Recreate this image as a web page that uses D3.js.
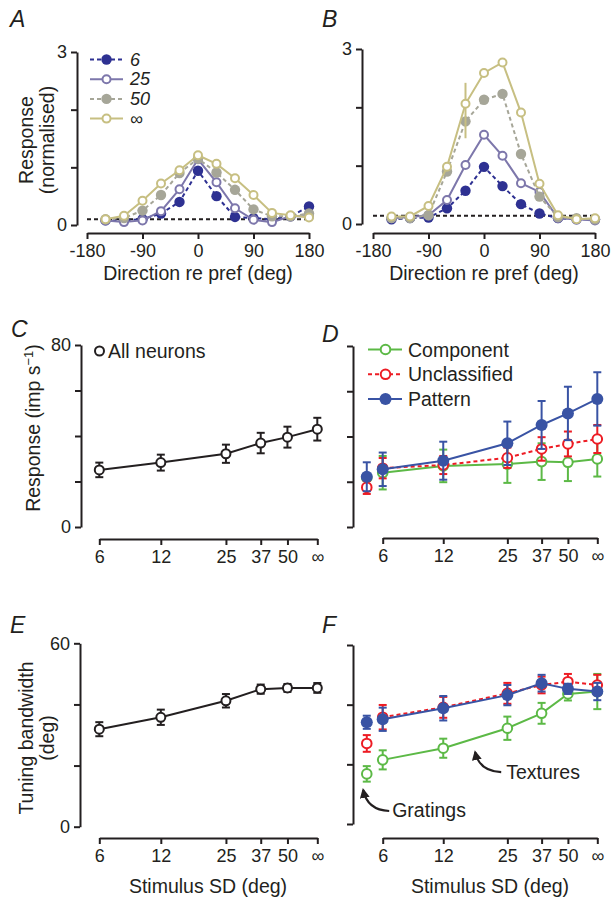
<!DOCTYPE html>
<html>
<head>
<meta charset="utf-8">
<script src="https://cdn.jsdelivr.net/npm/d3@7"></script>
<style>
  body { margin: 0; background: #fff; }
  svg { display: block; font-family: "Liberation Sans", Arial, sans-serif; }
</style>
</head>
<body>
<div id="chart"></div>
<script>
// ---- data ----
const dirs = [-150, -120, -90, -60, -30, 0, 30, 60, 90, 120, 150, 180];
const dirTicks = [-180, -90, 0, 90, 180];

// panel A: tuning curves, average
const a6   = [0.08, 0.08, 0.10, 0.20, 0.40, 0.94, 0.50, 0.14, 0.12, 0.10, 0.15, 0.32];
const a25  = [0.08, 0.05, 0.08, 0.24, 0.62, 1.14, 0.74, 0.29, 0.09, 0.05, 0.15, 0.15];
const a50  = [0.10, 0.12, 0.25, 0.52, 0.90, 1.15, 0.91, 0.61, 0.27, 0.15, 0.15, 0.20];
const aInf = [0.10, 0.16, 0.42, 0.72, 0.95, 1.21, 1.06, 0.81, 0.52, 0.21, 0.17, 0.13];
const aBase = 0.10;

// panel B: tuning curves, example neuron
const b6   = [0.08, 0.10, 0.11, 0.27, 0.57, 0.98, 0.65, 0.34, 0.18, 0.10, 0.08, 0.08];
const b25  = [0.10, 0.12, 0.15, 0.41, 1.01, 1.53, 1.17, 0.70, 0.55, 0.10, 0.08, 0.06];
const b50  = [0.10, 0.10, 0.15, 0.90, 1.76, 2.13, 2.23, 1.20, 0.47, 0.12, 0.10, 0.08];
const bInf = [0.13, 0.13, 0.31, 0.98, 2.06, 2.59, 2.77, 1.91, 0.69, 0.15, 0.08, 0.10];
const bBase = 0.14;
const bErrDir = -30, bErrLo = 1.47, bErrHi = 2.42;

// stimulus SD axis (∞ drawn at 70, gratings drawn left of 6)
const sdValues = [6, 12, 25, 37, 50, 70];
const sdLabels = ['6', '12', '25', '37', '50', '∞'];
const gratingSD = 5;

// panel C / E: all neurons
const allResp    = [25.1, 28.3, 32.2, 36.9, 39.5, 43.0];
const allRespErr = [3.2, 3.5, 4.0, 4.5, 4.6, 5.0];
const allBw      = [31.9, 35.8, 41.2, 45.0, 45.4, 45.4];
const allBwErr   = [2.3, 2.5, 2.2, 1.5, 1.3, 1.6];

// panel D / F: first value = gratings, then textures at sdValues
const compResp    = [21.8, 24.0, 27.0, 27.8, 28.9, 28.6, 30.1];
const compRespErr = [1.0, 7.4, 7.2, 8.3, 8.1, 8.3, 7.8];
const unclResp    = [17.5, 26.0, 27.4, 30.6, 34.5, 36.7, 38.9];
const unclRespErr = [2.9, 4.5, 4.0, 4.5, 5.2, 5.5, 6.2];
const pattResp    = [22.2, 25.5, 29.3, 37.0, 45.1, 50.2, 56.6];
const pattRespErr = [6.4, 7.4, 8.4, 9.6, 10.6, 11.8, 11.8];

const compBw    = [16.8, 21.5, 25.4, 32.1, 37.1, 43.6, 44.4];
const compBwErr = [2.6, 3.2, 3.2, 3.9, 3.5, 2.2, 5.9];
const unclBw    = [27.0, 35.8, 39.1, 43.8, 46.6, 47.7, 46.6];
const unclBwErr = [2.8, 4.1, 3.5, 3.5, 2.8, 2.6, 3.4];
const pattBw    = [34.1, 35.1, 38.8, 43.2, 47.2, 45.3, 44.4];
const pattBwErr = [2.2, 3.9, 4.1, 3.4, 2.8, 1.7, 2.9];

// ---- styles ----
const ink = '#231f20';
const tuneStyles = [
  {name: '6',  color: '#2e3192', dash: '4,3', filled: true},
  {name: '25', color: '#7d77ab', dash: null,  filled: false},
  {name: '50', color: '#a6a698', dash: '4,3', filled: true},
  {name: '∞',  color: '#c7bf82', dash: null,  filled: false}
];
const classStyles = {
  comp: {name: 'Component',    color: '#5cb946', dash: null,  filled: false},
  uncl: {name: 'Unclassified', color: '#ed1c24', dash: '4,3', filled: false},
  patt: {name: 'Pattern',      color: '#3953a4', dash: null,  filled: true}
};

const svg = d3.select('#chart').append('svg')
  .attr('width', 614).attr('height', 898);

// ---- panels ----
const dirX = r => d3.scaleLinear().domain([-180, 180]).range(r);
const sdX = r => d3.scaleLog().domain([6, 70]).range(r);

const pA = {x: dirX([87, 309]), y: d3.scaleLinear().domain([0, 3]).range([225, 52]), ax: 77, ay: 233};
const pB = {x: dirX([373, 595]), y: d3.scaleLinear().domain([0, 3]).range([224, 49]), ax: 362, ay: 233};
const pC = {x: sdX([99.3, 317.3]), y: d3.scaleLinear().domain([0, 80]).range([527, 345]), ax: 81, ay: 539};
const pD = {x: sdX([382.7, 597.3]), y: d3.scaleLinear().domain([0, 80]).range([527, 346]), ax: 353, ay: 538};
const pE = {x: sdX([99.3, 317.3]), y: d3.scaleLinear().domain([0, 60]).range([826.7, 643.3]), ax: 80, ay: 838};
const pF = {x: sdX([382.7, 597.3]), y: d3.scaleLinear().domain([0, 60]).range([824, 645]), ax: 353, ay: 838};

function styleAxis(g) {
  g.attr('font-family', null).attr('font-size', null);
  g.select('.domain').attr('stroke', ink).attr('stroke-width', 2);
  g.selectAll('.tick line').attr('stroke', ink).attr('stroke-width', 2);
  g.selectAll('.tick text').attr('fill', ink).style('font-size', '18px');
}

function yAxis(p, ticks, labels) {
  const g = svg.append('g').attr('transform', `translate(${p.ax},0)`)
    .call(d3.axisLeft(p.y).tickValues(ticks).tickSize(6).tickSizeOuter(0).tickPadding(4)
      .tickFormat((d, i) => labels[i]));
  styleAxis(g);
}

function xAxis(p, ticks, labels) {
  const g = svg.append('g').attr('transform', `translate(0,${p.ay})`)
    .call(d3.axisBottom(p.x).tickValues(ticks).tickSize(6).tickSizeOuter(0).tickPadding(5)
      .tickFormat((d, i) => labels[i]));
  styleAxis(g);
}

function marker(g, cx, cy, st, r) {
  g.append('circle').attr('cx', cx).attr('cy', cy)
    .attr('r', st.filled ? r + 1.2 : r)
    .attr('fill', st.filled ? st.color : '#fff')
    .attr('stroke', st.filled ? 'none' : st.color)
    .attr('stroke-width', 2);
}

function errBars(g, p, pts, color) {
  pts.forEach(d => {
    if (!d.e) return;
    const cx = p.x(d.x), y0 = p.y(d.y - d.e), y1 = p.y(d.y + d.e);
    g.append('line').attr('x1', cx).attr('x2', cx).attr('y1', y0).attr('y2', y1)
      .attr('stroke', color).attr('stroke-width', 2);
    [y0, y1].forEach(yy => g.append('line')
      .attr('x1', cx - 4).attr('x2', cx + 4).attr('y1', yy).attr('y2', yy)
      .attr('stroke', color).attr('stroke-width', 2));
  });
}

function series(p, xs, ys, errs, st, r) {
  const g = svg.append('g');
  const pts = xs.map((x, i) => ({x, y: ys[i], e: errs ? errs[i] : 0}));
  errBars(g, p, pts, st.color);
  g.append('path').datum(pts)
    .attr('fill', 'none').attr('stroke', st.color).attr('stroke-width', 2)
    .attr('stroke-dasharray', st.dash)
    .attr('d', d3.line().x(d => p.x(d.x)).y(d => p.y(d.y)));
  pts.forEach(d => marker(g, p.x(d.x), p.y(d.y), st, r));
}

function baseline(p, v) {
  svg.append('line')
    .attr('x1', p.x(-180)).attr('x2', p.x(180))
    .attr('y1', p.y(v)).attr('y2', p.y(v))
    .attr('stroke', ink).attr('stroke-width', 2).attr('stroke-dasharray', '4,3');
}

function text(x, y, s, opts = {}) {
  const t = svg.append('text').attr('x', x).attr('y', y).attr('fill', ink)
    .style('font-size', (opts.size || 19.5) + 'px')
    .attr('text-anchor', opts.anchor || 'start')
    .text(s);
  if (opts.italic) t.style('font-style', 'italic');
  if (opts.rotate) t.attr('transform', `rotate(-90,${x},${y})`);
  return t;
}

// ---- A & B: tuning curves ----
[[pA, [a6, a25, a50, aInf], aBase], [pB, [b6, b25, b50, bInf], bBase]].forEach(([p, sets, base]) => {
  yAxis(p, [0, 1, 2, 3], ['0', '', '', '3']);
  xAxis(p, dirTicks, dirTicks.map(String));
  baseline(p, base);
  sets.forEach((vals, i) => {
    if (p === pB && i === 3) {
      svg.append('line').attr('x1', p.x(bErrDir)).attr('x2', p.x(bErrDir))
        .attr('y1', p.y(bErrLo)).attr('y2', p.y(bErrHi))
        .attr('stroke', tuneStyles[3].color).attr('stroke-width', 2);
    }
    series(p, dirs, vals, null, tuneStyles[i], 4);
  });
  text((p.x(-180) + p.x(180)) / 2, 280, 'Direction re pref (deg)', {anchor: 'middle'});
});

// legend A
tuneStyles.forEach((st, i) => {
  const yy = 59.5 + i * 19.7;
  svg.append('line').attr('x1', 90).attr('x2', 123).attr('y1', yy).attr('y2', yy)
    .attr('stroke', st.color).attr('stroke-width', 2).attr('stroke-dasharray', st.dash);
  marker(svg, 106.5, yy, st, 4);
  text(130, yy + 6, st.name, {italic: true, size: 18});
});

// axis titles A
text(33, 140, 'Response', {anchor: 'middle', rotate: true});
text(54, 140, '(normalised)', {anchor: 'middle', rotate: true});

// ---- C: all neurons response ----
yAxis(pC, [0, 20, 40, 60, 80], ['0', '', '', '', '80']);
xAxis(pC, sdValues, sdLabels);
series(pC, sdValues, allResp, allRespErr, {color: ink, filled: false}, 4.5);
marker(svg, 99.5, 351, {color: ink, filled: false}, 4.5);
text(108, 357.5, 'All neurons');
const cl = text(40, 428, 'Response (imp s', {anchor: 'middle', rotate: true});
cl.append('tspan').attr('dy', -7).style('font-size', '13px').text('−1');
cl.append('tspan').attr('dy', 7).text(')');

// ---- D: classes response ----
function classPanel(p, comp, compE, uncl, unclE, patt, pattE) {
  [[comp, compE, classStyles.comp], [uncl, unclE, classStyles.uncl], [patt, pattE, classStyles.patt]]
    .forEach(([v, e, st]) => {
      // gratings point, not joined to the texture curve
      const gg = svg.append('g');
      errBars(gg, p, [{x: gratingSD, y: v[0], e: e[0]}], st.color);
      marker(gg, p.x(gratingSD), p.y(v[0]), st, 4.8);
      series(p, sdValues, v.slice(1), e.slice(1), st, 4.8);
    });
}

yAxis(pD, [0, 20, 40, 60, 80], ['', '', '', '', '']);
xAxis(pD, sdValues, sdLabels);
classPanel(pD, compResp, compRespErr, unclResp, unclRespErr, pattResp, pattRespErr);

['comp', 'uncl', 'patt'].forEach((k, i) => {
  const st = classStyles[k];
  const yy = 349.5 + i * 24.8;
  svg.append('line').attr('x1', 368).attr('x2', 402).attr('y1', yy).attr('y2', yy)
    .attr('stroke', st.color).attr('stroke-width', 2).attr('stroke-dasharray', st.dash);
  marker(svg, 385.5, yy, st, 4.8);
  text(408, yy + 7, st.name);
});

// ---- E: all neurons bandwidth ----
yAxis(pE, [0, 20, 40, 60], ['0', '', '', '60']);
xAxis(pE, sdValues, sdLabels);
series(pE, sdValues, allBw, allBwErr, {color: ink, filled: false}, 4.5);
text(33, 738, 'Tuning bandwidth', {anchor: 'middle', rotate: true});
text(54, 738, '(deg)', {anchor: 'middle', rotate: true});
text(208, 893, 'Stimulus SD (deg)', {anchor: 'middle'});

// ---- F: classes bandwidth ----
yAxis(pF, [0, 20, 40, 60], ['', '', '', '']);
xAxis(pF, sdValues, sdLabels);
classPanel(pF, compBw, compBwErr, unclBw, unclBwErr, pattBw, pattBwErr);
text(490, 893, 'Stimulus SD (deg)', {anchor: 'middle'});

// arrows
svg.append('defs').append('marker')
  .attr('id', 'head').attr('viewBox', '0 0 10 10').attr('refX', 8).attr('refY', 5)
  .attr('markerWidth', 4.5).attr('markerHeight', 4.5).attr('orient', 'auto')
  .append('path').attr('d', 'M0,0L10,5L0,10Z').attr('fill', ink);

function arrow(tipSD, tipV, dx, dy) {
  const tx = pF.x(tipSD), ty = pF.y(tipV);
  const sx = tx + dx, sy = ty + dy;
  svg.append('path')
    .attr('d', `M${sx},${sy}Q${tx + 4},${sy - 1} ${tx},${ty}`)
    .attr('fill', 'none').attr('stroke', ink).attr('stroke-width', 2.2)
    .attr('marker-end', 'url(#head)');
  return [sx, sy];
}
const [tx0, ty0] = arrow(17.3, 24.1, 26, 20);
text(tx0 + 5, ty0 + 7, 'Textures');
const [gx0, gy0] = arrow(4.8, 11.4, 26, 21);
text(gx0 + 3, gy0 + 6, 'Gratings');

// panel letters
[['A', 10, 27], ['B', 322, 27], ['C', 11, 337], ['D', 322, 342], ['E', 10, 633], ['F', 322, 633]]
  .forEach(([s, x, y]) => text(x, y, s, {italic: true, size: 23}));
</script>
</body>
</html>
